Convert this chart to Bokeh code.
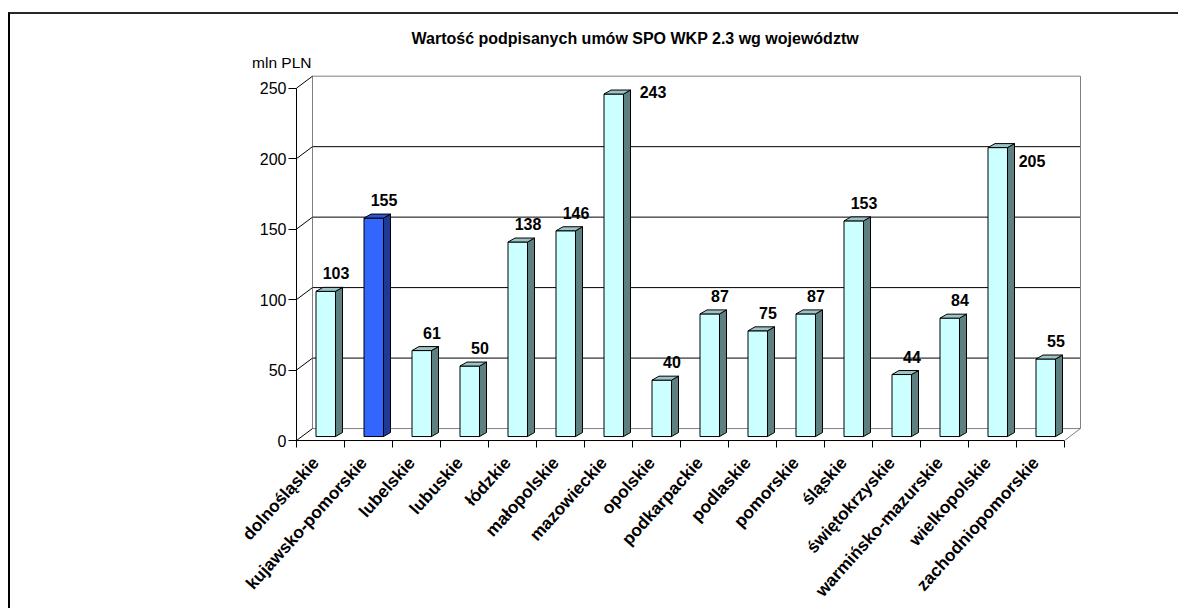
import math
from bokeh.plotting import figure
from bokeh.models import Range1d, LinearAxis, FixedTicker, ColumnDataSource, Label
from bokeh.core.properties import value
from bokeh.embed import file_html
from bokeh.resources import INLINE

# ---------------- data ----------------
title_text = "Wartość podpisanych umów SPO WKP 2.3 wg województw"
unit_label = "mln PLN"
categories = [
    "dolnośląskie", "kujawsko-pomorskie", "lubelskie", "lubuskie", "łódzkie",
    "małopolskie", "mazowieckie", "opolskie", "podkarpackie", "podlaskie",
    "pomorskie", "śląskie", "świętokrzyskie", "warmińsko-mazurskie",
    "wielkopolskie", "zachodniopomorskie",
]
values = [103, 155, 61, 50, 138, 146, 243, 40, 87, 75, 87, 153, 44, 84, 205, 55]
highlight = "kujawsko-pomorskie"
y_ticks = [0, 50, 100, 150, 200, 250]

# ---------------- layout / style ----------------
FONT = "Liberation Sans"
W, H = 1170, 596
FL, FR, FT, FB = 226, 1071, 36, 437      # frame edges (canvas px)
AXIS_X = 286                             # front y-axis position (canvas px)
AXIS_Y = 427                             # front x-axis position (canvas px)
CAT_PX = 48.0                            # px per category
PX_UNIT = 1.413                          # px per mln PLN
frame_w, frame_h = FR - FL, FB - FT
n = len(categories)
x_start = -0.5 - (AXIS_X - FL) / CAT_PX
y_start = -(FB - AXIS_Y) / PX_UNIT

p = figure(
    width=W, height=H,
    x_range=Range1d(x_start, x_start + frame_w / CAT_PX),
    y_range=Range1d(y_start, y_start + frame_h / PX_UNIT),
    x_axis_type=None, y_axis_type=None,
    output_backend="svg", toolbar_location=None,
    min_border_left=FL, min_border_right=W - FR,
    min_border_top=FT, min_border_bottom=H - FB,
    title=title_text,
)
p.outline_line_color = None
p.background_fill_color = "white"
p.border_fill_color = "white"
p.styles = {
    "margin-left": "8px",
    "margin-top": "12px",
    "border-left": "2px solid #000000",
    "border-top": "2px solid #262626",
}

p.title.align = "left"
p.title.offset = 115 + (AXIS_X - FL)
p.title.standoff = 7
p.title.text_font = FONT
p.title.text_font_size = "16px"
p.title.text_font_style = "bold"
p.title.text_color = "black"

# value axis (front edge of the 3D box)
yaxis = LinearAxis(
    ticker=FixedTicker(ticks=y_ticks), bounds=(y_ticks[0], y_ticks[-1]),
    fixed_location=-0.5,
    major_tick_out=8, major_tick_in=0, minor_tick_out=0, minor_tick_in=0,
    major_label_standoff=2, axis_line_color="black", major_tick_line_color="black",
    major_label_text_font=FONT, major_label_text_font_size="16px",
    major_label_text_color="black",
)
p.add_layout(yaxis, "left")

# category axis: labels only (front line + ticks drawn at the 3D front edge below)
LABEL_SHIFT = 5 / CAT_PX
label_ticks = [i - LABEL_SHIFT for i in range(n)]
xaxis = LinearAxis(
    ticker=FixedTicker(ticks=label_ticks, minor_ticks=[]),
    major_label_overrides={t: c for t, c in zip(label_ticks, categories)},
    major_label_orientation=math.radians(48),
    major_tick_out=0, major_tick_in=0, minor_tick_out=0, minor_tick_in=0,
    axis_line_color=None, major_tick_line_color=None, minor_tick_line_color=None,
    major_label_standoff=9,
    major_label_text_font=FONT, major_label_text_font_size="17.3px",
    major_label_text_font_style="bold", major_label_text_color="black",
)
p.add_layout(xaxis, "below")

# front category axis line and boundary ticks
x0, x1 = -0.5, n - 0.5
bounds_x = [i - 0.5 for i in range(n + 1)]
TICK = 7 / PX_UNIT
p.segment(x0=[x0], y0=[0], x1=[x1], y1=[0], line_color="black", line_width=1)
p.segment(x0=bounds_x, y0=[0] * len(bounds_x), x1=bounds_x, y1=[-TICK] * len(bounds_x),
          line_color="black", line_width=1)

# ---------------- 3D walls ----------------
DX = 16 / CAT_PX
DY = 12 / PX_UNIT
top = y_ticks[-1]
inner = y_ticks[1:-1]

p.segment(x0=[x0 + DX] * len(inner), y0=[v + DY for v in inner],
          x1=[x1 + DX] * len(inner), y1=[v + DY for v in inner],
          line_color="black", line_width=1)
wall_x0 = [x0 + DX, x0 + DX, x1 + DX, x0 + DX, x1]
wall_y0 = [DY, DY, DY, top + DY, 0]
wall_x1 = [x1 + DX, x0 + DX, x1 + DX, x1 + DX, x1 + DX]
wall_y1 = [DY, top + DY, top + DY, top + DY, DY]
p.segment(x0=wall_x0, y0=wall_y0, x1=wall_x1, y1=wall_y1,
          line_color="#808080", line_width=1)
p.segment(x0=[x0] * len(y_ticks), y0=y_ticks,
          x1=[x0 + DX] * len(y_ticks), y1=[v + DY for v in y_ticks],
          line_color="black", line_width=1)

# ---------------- 3D bars ----------------
BAR_L = 19.5 / CAT_PX
BAR_W = 19.5 / CAT_PX
SDX = 7 / CAT_PX
SDY = 4 / PX_UNIT
BASE = 4 / PX_UNIT

lefts, rights, bottoms, tops = [], [], [], []
side_xs, side_ys, top_xs, top_ys = [], [], [], []
front_c, side_c, top_c = [], [], []
for i, (c, v) in enumerate(zip(categories, values)):
    l = i - 0.5 + BAR_L
    r = l + BAR_W
    b = BASE
    t = v + BASE
    lefts.append(l); rights.append(r); bottoms.append(b); tops.append(t)
    side_xs.append([r, r + SDX, r + SDX, r])
    side_ys.append([b, b + SDY, t + SDY, t])
    top_xs.append([l, r, r + SDX, l + SDX])
    top_ys.append([t, t, t + SDY, t + SDY])
    if c == highlight:
        front_c.append("#3366FF"); side_c.append("#1E3A94"); top_c.append("#2C55D8")
    else:
        front_c.append("#CCFFFF"); side_c.append("#5E8080"); top_c.append("#9CC4C4")

front_src = ColumnDataSource(dict(left=lefts, right=rights, bottom=bottoms, top=tops, color=front_c))
p.quad(left="left", right="right", bottom="bottom", top="top", source=front_src,
       fill_color="color", line_color="black", line_width=1)
p.patches(xs=side_xs, ys=side_ys, fill_color=side_c, line_color="black", line_width=1)
p.patches(xs=top_xs, ys=top_ys, fill_color=top_c, line_color="black", line_width=1)

# ---------------- data labels ----------------
label_nudge = {"mazowieckie": (29, -2), "wielkopolskie": (24, 13)}
lab_x, lab_y, lab_t, lab_dx, lab_dy = [], [], [], [], []
for i, (c, v) in enumerate(zip(categories, values)):
    lab_x.append(i - 0.5 + 39.5 / CAT_PX)
    lab_y.append(v + BASE)
    lab_t.append(str(v))
    dx, dy = label_nudge.get(c, (0, -18))
    lab_dx.append(dx); lab_dy.append(dy)
lab_src = ColumnDataSource(dict(x=lab_x, y=lab_y, text=lab_t, dx=lab_dx, dy=lab_dy))
p.text(x="x", y="y", text="text", x_offset="dx", y_offset="dy", source=lab_src,
       text_align="center", text_baseline="middle",
       text_font=value(FONT), text_font_size="16px", text_font_style="bold",
       text_color="black")

# unit label (above the y axis, left of it)
p.add_layout(Label(x=-0.5 + 15 / CAT_PX, y=(AXIS_Y - 48) / PX_UNIT,
                   text=unit_label, text_align="right", text_baseline="middle",
                   text_font=FONT, text_font_size="15.5px", text_color="black"))

open("out.html", "w").write(file_html(p, INLINE))
